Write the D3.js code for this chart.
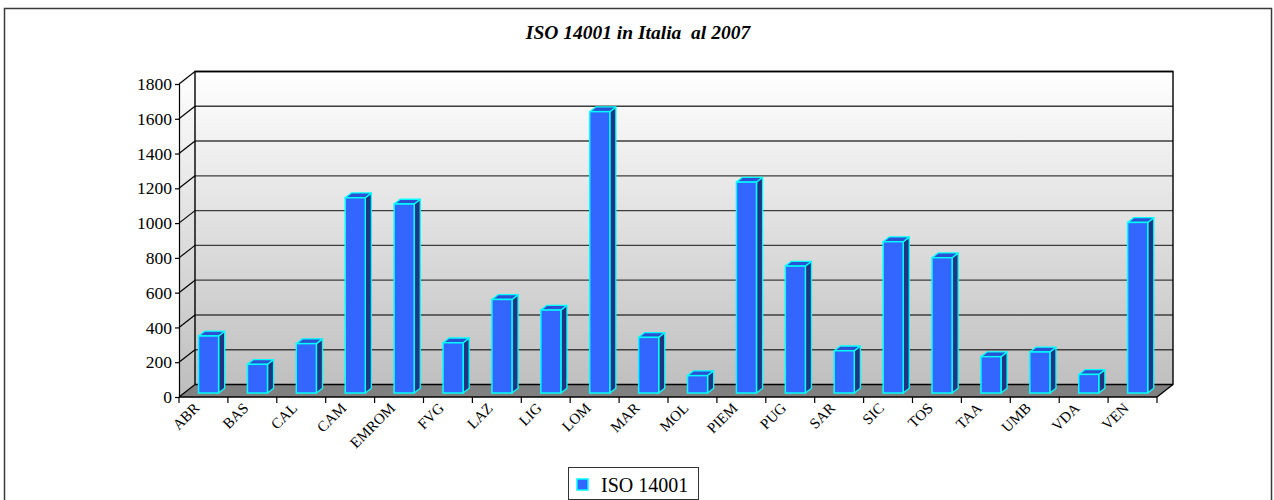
<!DOCTYPE html>
<html>
<head>
<meta charset="utf-8">
<script src="https://cdn.jsdelivr.net/npm/d3@7"></script>
<style>
  html, body { margin: 0; padding: 0; background: #ffffff; }
  svg { display: block; }
  svg text { font-family: "Liberation Serif", "Times New Roman", serif; }
</style>
</head>
<body>
<svg id="chart" width="1274" height="500"></svg>
<script>
// Regional ISO 14001 certifications, 2007
const categories = ["ABR", "BAS", "CAL", "CAM", "EMROM", "FVG", "LAZ", "LIG", "LOM", "MAR",
                    "MOL", "PIEM", "PUG", "SAR", "SIC", "TOS", "TAA", "UMB", "VDA", "VEN"];
const values = [328, 165, 284, 1123, 1087, 289, 538, 477, 1618, 320,
                100, 1213, 730, 243, 870, 778, 209, 236, 107, 981];
const yTicks = [0, 200, 400, 600, 800, 1000, 1200, 1400, 1600, 1800];
const seriesName = "ISO 14001";
const titleText = "ISO 14001 in Italia\u00a0 al 2007";

(function () {
  const svg = d3.select("#chart");

  // Plot geometry (front plane) and 3D depth offset
  const plotLeft = 179, plotRight = 1157, plotBottom = 397, plotTop = 84;
  const DX = 16, DY = -12.5;
  const x = d3.scaleBand().domain(categories).range([plotLeft, plotRight]);
  const y = d3.scaleLinear().domain([0, 1800]).range([plotBottom, plotTop]);

  // Outer frame
  svg.append("rect").attr("x", 4.5).attr("y", 8.5).attr("width", 1267).attr("height", 520)
    .attr("fill", "#fff").attr("stroke", "#3a3a3a").attr("stroke-width", 1.5);

  // Title
  svg.append("text").attr("x", 638).attr("y", 39).attr("text-anchor", "middle")
    .style("font-size", "19.5px").attr("font-weight", "bold").attr("font-style", "italic")
    .text(titleText);

  // Wall gradient
  const defs = svg.append("defs");
  const grad = defs.append("linearGradient").attr("id", "wallGrad")
    .attr("gradientUnits", "userSpaceOnUse")
    .attr("x1", 0).attr("y1", plotTop + DY).attr("x2", 0).attr("y2", plotBottom);
  grad.append("stop").attr("offset", "0%").attr("stop-color", "#ffffff");
  grad.append("stop").attr("offset", "100%").attr("stop-color", "#bdbdbd");

  const y0 = y(0), yMax = y(1800);

  // Back wall
  svg.append("rect")
    .attr("x", plotLeft + DX).attr("y", yMax + DY)
    .attr("width", plotRight - plotLeft).attr("height", y0 - yMax)
    .attr("fill", "url(#wallGrad)");

  // Side wall
  svg.append("path")
    .attr("d", `M${plotLeft},${y0} L${plotLeft},${yMax} L${plotLeft + DX},${yMax + DY} L${plotLeft + DX},${y0 + DY} Z`)
    .attr("fill", "url(#wallGrad)");

  // Floor
  svg.append("path")
    .attr("d", `M${plotLeft},${y0} L${plotLeft + DX},${y0 + DY} L${plotRight + DX},${y0 + DY} L${plotRight},${y0} Z`)
    .attr("fill", "#808080");

  // Gridlines on back and side walls
  const grid = svg.append("g");
  yTicks.forEach(t => {
    const yy = y(t);
    grid.append("line")
      .attr("x1", plotLeft + DX).attr("x2", plotRight + DX)
      .attr("y1", yy + DY).attr("y2", yy + DY)
      .attr("stroke", t === 0 || t === 1800 ? "#000" : "#3c3c3c").attr("stroke-width", 1.4);
    grid.append("line")
      .attr("x1", plotLeft).attr("x2", plotLeft + DX)
      .attr("y1", yy).attr("y2", yy + DY)
      .attr("stroke", "#000").attr("stroke-width", 1.2);
  });

  // Wall edges
  svg.append("path")
    .attr("d", `M${plotLeft + DX},${y0 + DY} L${plotLeft + DX},${yMax + DY} L${plotRight + DX},${yMax + DY} L${plotRight + DX},${y0 + DY} L${plotRight},${y0}`)
    .attr("fill", "none").attr("stroke", "#000").attr("stroke-width", 1.4);

  // Y axis
  const yAxis = d3.axisLeft(y).tickValues(yTicks).tickFormat(d3.format("d"))
    .tickSize(4).tickPadding(3);
  const yg = svg.append("g").attr("transform", `translate(${plotLeft},0)`).call(yAxis);
  yg.attr("font-family", null).attr("font-size", null);
  yg.select(".domain").attr("stroke", "#000").attr("stroke-width", 1.2);
  yg.selectAll(".tick line").attr("stroke", "#000").attr("stroke-width", 1.2);
  yg.selectAll(".tick text").style("font-size", "17.5px").attr("fill", "#000");

  // X axis: ticks at category boundaries, rotated labels
  const xg = svg.append("g");
  xg.append("line").attr("x1", plotLeft).attr("x2", plotRight).attr("y1", y0).attr("y2", y0)
    .attr("stroke", "#000").attr("stroke-width", 1.4);
  const bounds = categories.map(c => x(c)).concat([plotRight]);
  xg.selectAll("line.tk").data(bounds).join("line").attr("class", "tk")
    .attr("x1", d => d).attr("x2", d => d).attr("y1", y0).attr("y2", y0 + 6)
    .attr("stroke", "#000").attr("stroke-width", 1.2);
  xg.selectAll("text").data(categories).join("text")
    .attr("transform", d => `translate(${x(d) + x.bandwidth() / 2 - 3},${y0 + 12}) rotate(-45)`)
    .attr("text-anchor", "end")
    .style("font-size", "15px")
    .attr("fill", "#000")
    .text(d => d);

  // 3D bars
  const bw = x.bandwidth() * 0.41;
  const dFront = 0.32, dBack = 0.70;
  const fx = DX * dFront, fy = DY * dFront;
  const ox = DX * (dBack - dFront), oy = DY * (dBack - dFront);

  const bars = svg.append("g").selectAll("g")
    .data(categories.map((c, i) => ({ c, v: values[i] })))
    .join("g");

  bars.each(function (d) {
    const g = d3.select(this);
    const x0 = x(d.c) + x.bandwidth() / 2 - bw / 2 + fx;
    const x1 = x0 + bw;
    const yb = y(0) + fy;
    const yt = y(d.v) + fy;
    // side face
    g.append("path")
      .attr("d", `M${x1},${yb} L${x1},${yt} L${x1 + ox},${yt + oy} L${x1 + ox},${yb + oy} Z`)
      .attr("fill", "#1f3483").attr("stroke", "#00ffff").attr("stroke-width", 1.3)
      .attr("stroke-linejoin", "round");
    // top face
    g.append("path")
      .attr("d", `M${x0},${yt} L${x0 + ox},${yt + oy} L${x1 + ox},${yt + oy} L${x1},${yt} Z`)
      .attr("fill", "#2c50d4").attr("stroke", "#00ffff").attr("stroke-width", 1.3)
      .attr("stroke-linejoin", "round");
    // front face
    g.append("rect")
      .attr("x", x0).attr("y", yt).attr("width", bw).attr("height", yb - yt)
      .attr("fill", "#3366ff").attr("stroke", "#00ffff").attr("stroke-width", 1.5);
  });

  // Legend
  const lg = svg.append("g");
  lg.append("rect").attr("x", 568.5).attr("y", 467.5).attr("width", 130).attr("height", 32)
    .attr("fill", "#fff").attr("stroke", "#333").attr("stroke-width", 1);
  lg.append("rect").attr("x", 577).attr("y", 479).attr("width", 11).attr("height", 11)
    .attr("fill", "#3366ff").attr("stroke", "#00ffff").attr("stroke-width", 1.5);
  lg.append("text").attr("x", 601).attr("y", 491.5).style("font-size", "20px").attr("fill", "#000")
    .text(seriesName);
})();
</script>
</body>
</html>
